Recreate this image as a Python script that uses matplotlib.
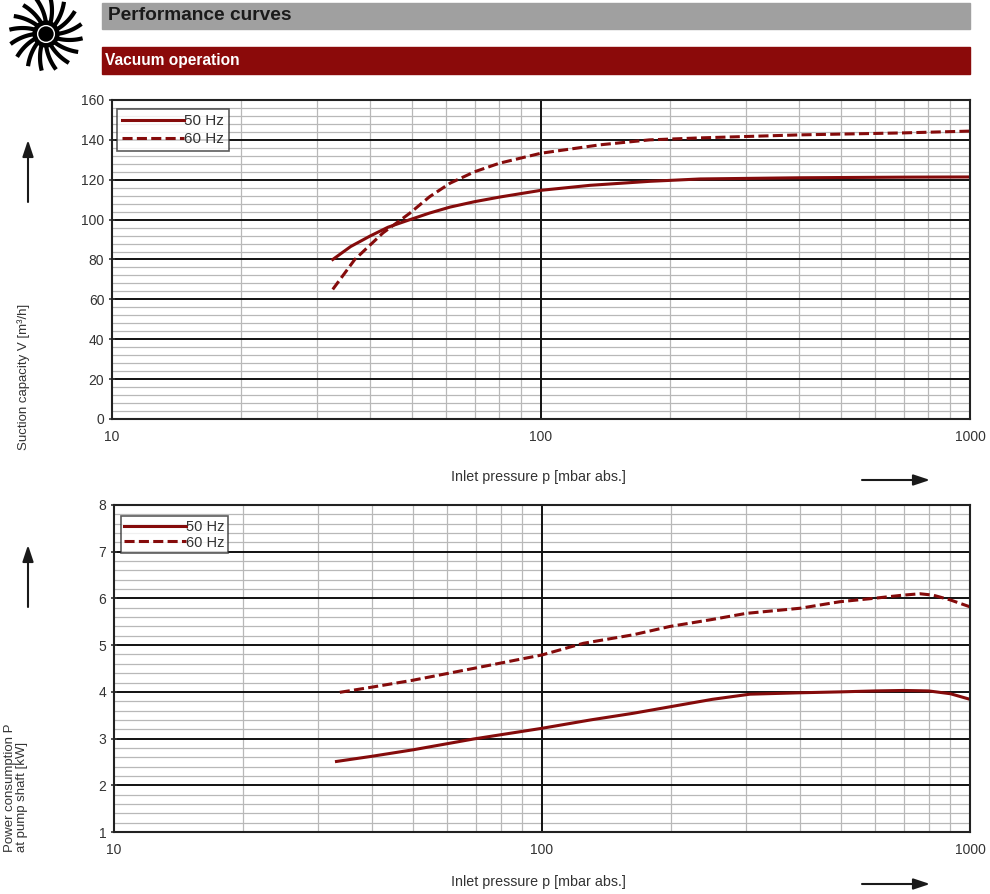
import numpy as np
import matplotlib
matplotlib.use("Agg")
import matplotlib.pyplot as plt
from matplotlib.patches import Rectangle, Circle, FancyArrowPatch
from matplotlib.ticker import FixedLocator, NullFormatter

plt.rcParams['font.family'] = ['Liberation Sans', 'DejaVu Sans']

RED = '#850b0b'

# suction capacity [m3/h]
p_v50 = [32.7, 36, 39.9, 44, 49.5, 55, 61.4, 70, 80, 100, 130, 179, 235, 400, 700, 1000]
v50 = [80, 86.5, 91.7, 96.2, 100, 103.3, 106.3, 109, 111.3, 114.7, 117.2, 119.2, 120.4, 121, 121.3, 121.4]
p_v60 = [32.7, 36.8, 42.8, 49.5, 55, 61.4, 70, 80, 100, 137, 179, 235, 400, 700, 1000]
v60 = [65, 80, 93.3, 103.3, 111.5, 118.3, 124, 128.3, 133.3, 137.5, 140, 141, 142.5, 143.5, 144.4]

# power consumption [kW]
p_p50 = [33.1, 40, 50, 69.1, 100, 130, 163, 199, 250, 306, 400, 500, 600, 700, 800, 900, 1000]
pw50 = [2.51, 2.62, 2.76, 2.99, 3.22, 3.4, 3.54, 3.68, 3.84, 3.95, 3.98, 4.0, 4.02, 4.03, 4.02, 3.96, 3.84]
p_p60 = [33.7, 40, 50, 69, 100, 125, 163, 199, 250, 300, 401, 497, 593, 697, 764, 820, 898, 1000]
pw60 = [3.99, 4.1, 4.25, 4.5, 4.79, 5.04, 5.22, 5.4, 5.55, 5.68, 5.79, 5.93, 6.0, 6.07, 6.1, 6.07, 5.97, 5.82]

W, H = 990, 894
fig = plt.figure(figsize=(W / 100, H / 100), dpi=100)


def box(x0, y0, x1, y1):
    return [x0 / W, 1 - y1 / H, (x1 - x0) / W, (y1 - y0) / H]


# header bars
fig.patches.append(Rectangle((102 / W, 1 - 29 / H), 868 / W, 26 / H,
                             transform=fig.transFigure, color='#a0a0a0'))
fig.text(108 / W, 1 - 16 / H, 'Performance curves', fontsize=13.8, weight='bold',
         va='center', color='#1a1a1a')
fig.patches.append(Rectangle((102 / W, 1 - 74 / H), 868 / W, 27 / H,
                             transform=fig.transFigure, color='#8b0a0a'))
fig.text(105 / W, 1 - 60 / H, 'Vacuum operation', fontsize=11.2, weight='bold',
         va='center', color='white')

# logo
lg = fig.add_axes(box(8, -4, 84, 72))
lg.set_xlim(-1, 1)
lg.set_ylim(-1, 1)
lg.set_aspect('equal')
lg.axis('off')
for a in np.linspace(0, 2 * np.pi, 16, endpoint=False):
    t = np.linspace(0.28, 0.97, 15)
    ang = a + 0.4 * (t - 0.28)
    lg.plot(t * np.cos(ang), t * np.sin(ang), color='black', lw=3.0,
            solid_capstyle='butt')
lg.add_patch(Circle((0, 0), 0.34, color='black'))
lg.add_patch(Circle((0, 0), 0.22, fill=False, ec='white', lw=1))


def setup(ax, ymin, ymax, ystep, yminor):
    ax.set_xscale('log')
    ax.set_xlim(10, 1000)
    ax.set_ylim(ymin, ymax)
    ax.set_xticks([10, 100, 1000])
    ax.set_xticklabels(['10', '100', '1000'])
    minors = [m * d for d in (10, 100) for m in range(2, 10)]
    ax.xaxis.set_minor_locator(FixedLocator(minors))
    ax.xaxis.set_minor_formatter(NullFormatter())
    ax.set_yticks(np.arange(ymin, ymax + ystep / 2, ystep))
    ax.yaxis.set_minor_locator(FixedLocator(np.arange(ymin, ymax, yminor)))
    ax.grid(which='minor', color='#b8b8b8', lw=0.9)
    ax.grid(which='major', axis='y', color='#111111', lw=1.4)
    ax.axvline(100, color='#111111', lw=1.4, zorder=1)
    ax.tick_params(which='minor', length=0)
    ax.tick_params(which='major', length=4, width=1.2, labelsize=10,
                   colors='#333333', direction='inout')
    ax.tick_params(axis='x', which='major', length=0, pad=8)
    for s in ax.spines.values():
        s.set_linewidth(1.5)
        s.set_color('#222222')
    ax.set_axisbelow(True)


DASH = (0, (3.3, 1.4))

ax1 = fig.add_axes(box(112, 100, 970, 419))
setup(ax1, 0, 160, 20, 4)
ax1.plot(p_v50, v50, color=RED, lw=2.2, label='50 Hz')
ax1.plot(p_v60, v60, color=RED, lw=2.2, ls=DASH, label='60 Hz')
leg = ax1.legend(loc='upper left', bbox_to_anchor=(0.006, 0.972), fontsize=11,
                 frameon=True, fancybox=False, edgecolor='#333333',
                 handlelength=4.0, handletextpad=0.0, borderpad=0.35,
                 labelspacing=0.25, borderaxespad=0)
leg.get_frame().set_linewidth(1.2)
for t in leg.get_texts():
    t.set_color('#333333')

ax2 = fig.add_axes(box(114, 505, 970, 832))
setup(ax2, 1, 8, 1, 0.2)
ax2.plot(p_p50, pw50, color=RED, lw=2.2, label='50 Hz')
ax2.plot(p_p60, pw60, color=RED, lw=2.2, ls=DASH, label='60 Hz')
leg = ax2.legend(loc='upper left', bbox_to_anchor=(0.008, 0.965), fontsize=10.5,
                 frameon=True, fancybox=False, edgecolor='#333333',
                 handlelength=4.2, handletextpad=0.0, borderpad=0.25,
                 labelspacing=0.1, borderaxespad=0)
leg.get_frame().set_linewidth(1.2)
for t in leg.get_texts():
    t.set_color('#333333')

# axis labels
fig.text(24 / W, 1 - 377 / H, 'Suction capacity V [m³/h]', rotation=90,
         ha='center', va='center', fontsize=9.5, color='#333333')
fig.text(16 / W, 1 - 852 / H, 'Power consumption P\nat pump shaft [kW]',
         rotation=90, ha='center', va='bottom', fontsize=9.5, color='#333333',
         linespacing=1.1, multialignment='left')
fig.text(538 / W, 1 - 477 / H, 'Inlet pressure p [mbar abs.]', ha='center',
         va='center', fontsize=10.3, color='#333333')
fig.text(538 / W, 1 - 882 / H, 'Inlet pressure p [mbar abs.]', ha='center',
         va='center', fontsize=10.3, color='#333333')

# arrows
arr = dict(arrowstyle='-|>,head_length=0.9,head_width=0.3', color='#1a1a1a',
           lw=1.5, mutation_scale=11, shrinkA=0, shrinkB=0)
for (x0, y0, x1, y1) in [(28, 202, 28, 140), (28, 607, 28, 545),
                         (862, 480, 930, 480), (862, 884, 930, 884)]:
    fig.add_artist(FancyArrowPatch((x0 / W, 1 - y0 / H), (x1 / W, 1 - y1 / H),
                                   transform=fig.transFigure, **arr))

fig.savefig('out.png', dpi=100)
